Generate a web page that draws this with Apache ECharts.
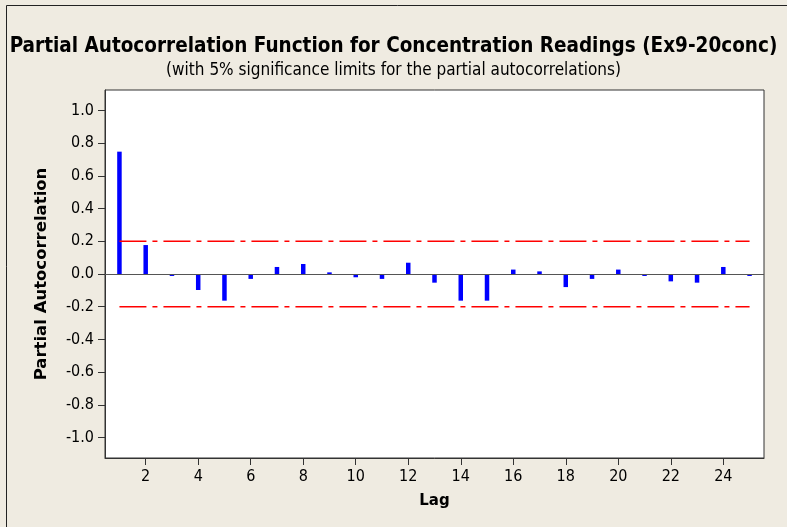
<!DOCTYPE html>
<html>
<head>
<meta charset="utf-8">
<script src="https://cdn.jsdelivr.net/npm/echarts@6/dist/echarts.min.js"></script>
<style>
    html, body { margin: 0; padding: 0; background: #efebe1; }
    #chart { width: 787px; height: 527px; }
</style>
</head>
<body>
<div id="chart"></div>
<script>
// PACF values, lag 1..25
const lags = [1, 2, 3, 4, 5, 6, 7, 8, 9, 10, 11, 12, 13, 14, 15, 16, 17, 18, 19, 20, 21, 22, 23, 24, 25]
const pacf = [0.748, 0.177, -0.012, -0.098, -0.163, -0.030, 0.043, 0.061, 0.010, -0.020,
    -0.030, 0.069, -0.053, -0.163, -0.163, 0.027, 0.016, -0.080, -0.030, 0.027,
    -0.012, -0.045, -0.053, 0.043, -0.012]
const limit = 0.2 // 5% significance limit
const yTicks = [-1.0, -0.8, -0.6, -0.4, -0.2, 0.0, 0.2, 0.4, 0.6, 0.8, 1.0]
const xTicks = [2, 4, 6, 8, 10, 12, 14, 16, 18, 20, 22, 24]

const mychart = echarts.init(document.getElementById('chart'))
const first = lags[0], last = lags[lags.length - 1]
const limitLine = (v) => ({
    type: 'line',
    data: [[first, v], [last, v]],
    symbol: 'none',
    silent: true,
    lineStyle: { color: '#ff0000', width: 1.5, type: [27, 6, 5, 6] }
})

mychart.setOption({
    animation: false,
    backgroundColor: '#efebe1',
    title: {
        text: 'Partial Autocorrelation Function for Concentration Readings (Ex9-20conc)',
        subtext: '(with 5% significance limits for the partial autocorrelations)',
        left: 'center',
        top: 31,
        itemGap: 5,
        textStyle: { fontFamily: 'DejaVu Sans Condensed', fontWeight: 'bold', fontSize: 20.5, color: '#000' },
        subtextStyle: { fontFamily: 'DejaVu Sans Condensed', fontSize: 17, color: '#000' }
    },
    graphic: [{
        type: 'rect',
        shape: { x: 6.5, y: 5.5, width: 800, height: 600 },
        style: { fill: 'none', stroke: '#222', lineWidth: 1 }
    }],
    grid: {
        left: 105, right: 23, top: 90, bottom: 69,
        show: true, backgroundColor: '#fff', borderColor: '#333', borderWidth: 1
    },
    xAxis: {
        type: 'value',
        min: 0.45, max: 25.55,
        name: 'Lag',
        nameLocation: 'middle',
        nameGap: 36,
        nameTextStyle: { fontFamily: 'DejaVu Sans', fontWeight: 'bold', fontSize: 15, color: '#000' },
        axisLine: { show: true, onZero: false, lineStyle: { color: '#333' } },
        axisTick: { show: true, length: 7, customValues: xTicks, lineStyle: { color: '#333' } },
        axisLabel: { customValues: xTicks, margin: 11, fontFamily: 'DejaVu Sans Condensed', fontSize: 16, color: '#000' },
        splitLine: { show: false }
    },
    yAxis: {
        type: 'value',
        min: -1.125, max: 1.125,
        name: 'Partial Autocorrelation',
        nameLocation: 'middle',
        nameGap: 55,
        nameTextStyle: { fontFamily: 'DejaVu Sans', fontWeight: 'bold', fontSize: 16.5, color: '#000' },
        axisLine: { show: true, lineStyle: { color: '#333' } },
        axisTick: { show: true, length: 7, customValues: yTicks, lineStyle: { color: '#333' } },
        axisLabel: {
            customValues: yTicks, margin: 11,
            fontFamily: 'DejaVu Sans Condensed', fontSize: 16, color: '#000',
            formatter: (v) => v.toFixed(1)
        },
        splitLine: { show: false }
    },
    series: [
        {
            type: 'bar',
            data: lags.map((l, i) => [l, pacf[i]]),
            barWidth: 4.5,
            itemStyle: { color: '#0000ff' },
            markLine: {
                silent: true,
                symbol: 'none',
                label: { show: false },
                lineStyle: { color: '#555', width: 1, type: 'solid' },
                data: [{ yAxis: 0 }]
            }
        },
        limitLine(limit),
        limitLine(-limit)
    ]
})
</script>
</body>
</html>
